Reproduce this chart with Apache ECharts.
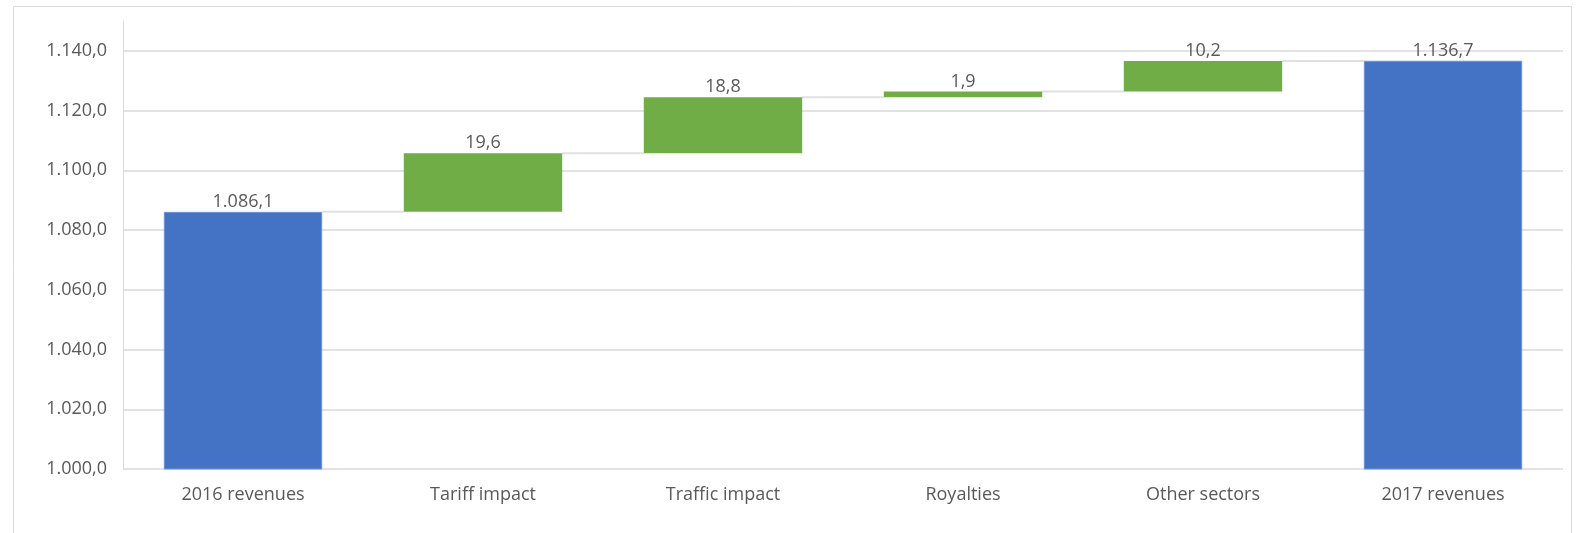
<!DOCTYPE html>
<html>
<head>
<meta charset="utf-8">
<style>
  html, body { margin: 0; padding: 0; background: #ffffff; }
  #chart { width: 1580px; height: 533px; }
</style>
<script src="https://cdn.jsdelivr.net/npm/echarts@6/dist/echarts.min.js"></script>
</head>
<body>
<div id="chart"></div>
<script>
// Revenue bridge 2016 -> 2017
const categories = ['2016 revenues', 'Tariff impact', 'Traffic impact', 'Royalties', 'Other sectors', '2017 revenues'];
const startTotal = 1086.1;
const deltas = [19.6, 18.8, 1.9, 10.2];
const endTotal = 1136.7;
const yTicks = { min: 1000, max: 1150, interval: 20 };

const FONT = '"Open Sans", "Segoe UI", sans-serif';
const FONT_SIZE = 18;
const TEXT = '#595959';
const GRID = '#d9d9d9';
const BLUE = '#4472C4';
const GREEN = '#70AD47';
const BAR_RATIO = 0.66;

// European number format: 1.086,1
function fmt(v) {
  const s = v.toFixed(1).split('.');
  const intPart = s[0].replace(/\B(?=(\d{3})+(?!\d))/g, '.');
  return intPart + ',' + s[1];
}

// running levels: bottom of each change bar and level after it
const levels = [startTotal];
deltas.forEach(d => levels.push(levels[levels.length - 1] + d));

const n = categories.length;
const totalData = categories.map((_, i) => i === 0 ? startTotal : (i === n - 1 ? endTotal : '-'));
const baseData = categories.map((_, i) => (i > 0 && i < n - 1) ? levels[i - 1] : '-');
const deltaData = categories.map((_, i) => (i > 0 && i < n - 1) ? deltas[i - 1] : '-');
// connector from each bar top to the next bar
const connectorData = levels.map((v, i) => [i, v]);

const labelStyle = { show: true, position: 'top', distance: 1, color: TEXT, fontFamily: FONT, fontSize: FONT_SIZE, formatter: p => fmt(p.value) };

const chart = echarts.init(document.getElementById('chart'));
chart.setOption({
  animation: false,
  backgroundColor: '#ffffff',
  graphic: [{
    type: 'rect', silent: true, z: -10,
    shape: { x: 13.5, y: 6.5, width: 1558, height: 540 },
    style: { fill: 'none', stroke: GRID, lineWidth: 1 }
  }],
  grid: { left: 123, right: 17, top: 21, bottom: 64 },
  xAxis: {
    type: 'category',
    data: categories,
    axisLine: { show: false },
    axisTick: { show: false },
    axisLabel: { color: TEXT, fontFamily: FONT, fontSize: FONT_SIZE, margin: 17 }
  },
  yAxis: {
    type: 'value',
    min: yTicks.min, max: yTicks.max, interval: yTicks.interval,
    axisLine: { show: true, lineStyle: { color: GRID, width: 1 } },
    axisTick: { show: false },
    axisLabel: { color: TEXT, fontFamily: FONT, fontSize: FONT_SIZE, margin: 16, showMaxLabel: false, formatter: v => fmt(v) },
    splitLine: { show: true, showMaxLine: false, lineStyle: { color: GRID, width: 1.5 } }
  },
  series: [
    {
      name: 'Total', type: 'bar', data: totalData,
      barWidth: (BAR_RATIO * 100) + '%', barGap: '-100%',
      itemStyle: { color: BLUE, borderColor: '#6f94d6', borderWidth: 1 },
      label: labelStyle, z: 3
    },
    {
      name: 'Base', type: 'bar', stack: 'bridge', data: baseData,
      barWidth: (BAR_RATIO * 100) + '%', barGap: '-100%',
      itemStyle: { color: 'transparent' }, silent: true
    },
    {
      name: 'Change', type: 'bar', stack: 'bridge', data: deltaData,
      barWidth: (BAR_RATIO * 100) + '%', barGap: '-100%',
      itemStyle: { color: GREEN },
      label: labelStyle, z: 3
    },
    {
      name: 'Connector', type: 'custom', data: connectorData, z: 2, silent: true,
      renderItem: function (params, api) {
        const p = api.coord([api.value(0), api.value(1)]);
        const w = api.size([1, 0])[0];
        const half = w * BAR_RATIO / 2;
        return {
          type: 'line',
          shape: { x1: p[0] + half, y1: p[1], x2: p[0] + w - half, y2: p[1] },
          style: { stroke: '#e0e0e0', lineWidth: 2 }
        };
      }
    }
  ]
});
</script>
</body>
</html>
